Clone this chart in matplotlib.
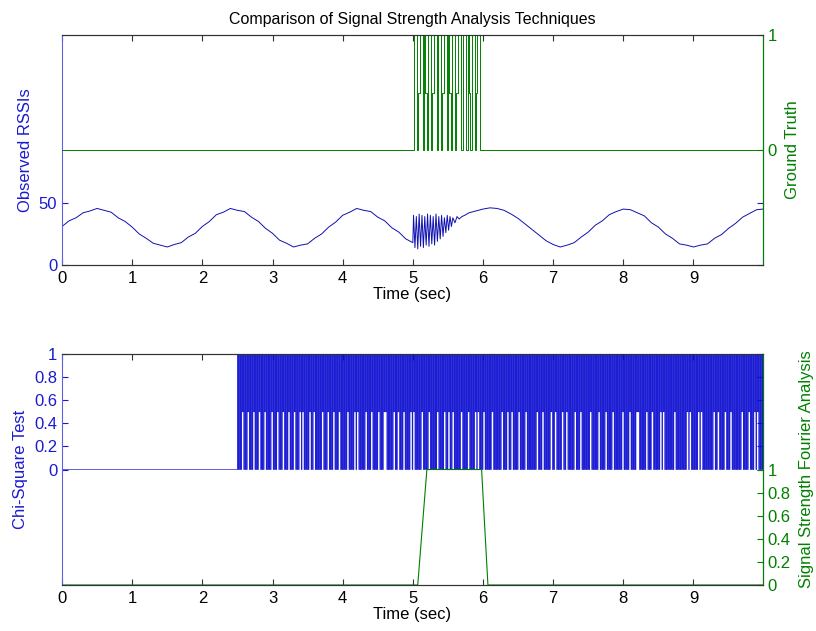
import matplotlib
matplotlib.use("Agg")
import matplotlib.pyplot as plt
import numpy as np

plt.rcParams['font.family'] = ['Liberation Sans', 'DejaVu Sans']
plt.rcParams['path.simplify'] = False

BLUE = '#0000ff'
LBLUE = '#1a1ad0'
GREEN = '#008000'

# --- top panel data: observed RSSI (0.1 s grid) ---
rssi_a = [31, 35.5, 38, 42, 43.5, 45.5, 44, 42.5, 38, 35, 30.5, 25, 21.5, 17.5, 16, 14.5, 16.5,
          18, 22.5, 25.5, 31, 35, 40.5, 42.5, 45.5, 44, 43, 38.5, 35, 29.5, 25.5, 20, 17.5, 14.5,
          16, 17, 21.5, 25, 30.5, 34.5, 40, 42.5, 45.5, 44, 43, 38.5, 35.5, 30, 26.5, 21, 18]
jag_t = [5.01, 5.03, 5.05, 5.07, 5.09, 5.11, 5.13, 5.15, 5.17, 5.19, 5.21, 5.23, 5.25, 5.27,
         5.29, 5.31, 5.33, 5.35, 5.37, 5.39, 5.41, 5.43, 5.45, 5.47, 5.49, 5.51, 5.53, 5.55,
         5.57, 5.60, 5.63, 5.66, 5.70, 5.74]
jag_v = [40, 14, 39, 13, 41, 15, 40, 14, 39, 16, 41, 15, 40, 17, 39, 16, 41, 19, 39, 21,
         40, 23, 38, 26, 40, 28, 39, 31, 38, 34, 39, 37, 39, 40]
rssi_b = [42, 43.5, 45, 46, 45.5, 44, 41, 37.5, 33, 28.5, 24, 19.5, 16.5, 14.5, 16, 18, 22.5,
          26.5, 32, 35.5, 40.5, 43, 45, 44.5, 42, 39.5, 34, 30.5, 25, 21.5, 17, 16, 14.5, 16,
          17, 21.5, 24.5, 29.5, 33.5, 38.5, 41.5, 44.5]
rssi_end = 45

# ground truth between 5 and 6 s (0.02 s grid): 0 -> 0, 1 -> 0.5, 2 -> 1
gt_codes = "02201220210220122022012202102201220022021022012200"

# --- bottom panel data ---
# chi-square test result from 2.5 s (0.01 s grid)
chi_codes = ("202020212020202120202021202020"
             "212020202120202020212020202120"
             "202021202020212020202120202021"
             "202120202020212020212020202020"
             "212020202120202021202020212020"
             "202020212020202021202120202020"
             "202120202021202020202120202021"
             "212020202020212020212020202120"
             "202020212021202020202021202020"
             "202120202020202120202020212020"
             "212020212020202020212020202021"
             "202020202120212020202120202020"
             "202120202020202021202020212020"
             "212020202021202020202120202020"
             "202020212020202120202020202120"
             "202120202020212020212020202020"
             "212020202120202020202021202020"
             "202021202020202120202020212020"
             "202020202120202020212020202021"
             "212020202020212020202120202020"
             "202120212020202020202021202020"
             "202020202021202120202020202120"
             "212020202020202020212020212020"
             "202021202020212020202020202021"
             "202020202120202021202120202020")
fourier_t = [0, 1, 2, 3, 4, 5.07, 5.2, 5.98, 6.07, 7, 8, 9.99]
fourier_v = [0, 0, 0, 0, 0, 0, 1, 1, 0, 0, 0, 0]

xticks = [0, 1, 2, 3, 4, 5, 6, 7, 8, 9]
xmax = 9.99

code_val = {'0': 0.0, '1': 0.5, '2': 1.0}

t_a = np.round(np.arange(len(rssi_a)) * 0.1, 2)
t_b = np.round(5.8 + np.arange(len(rssi_b)) * 0.1, 2)
rssi_t = np.concatenate([t_a, jag_t, t_b, [xmax]])
rssi_v = np.concatenate([rssi_a, jag_v, rssi_b, [rssi_end]])

gt_grid = 5.0 + np.arange(len(gt_codes)) * 0.02
gt_t = np.concatenate([[0], gt_grid, [xmax]])
gt_v = np.concatenate([[0], [code_val[c] for c in gt_codes], [0]])

chi_grid = 2.5 + np.arange(len(chi_codes)) * 0.01
chi_grid = chi_grid[chi_grid <= xmax]
chi_t = np.concatenate([[0], chi_grid, [xmax]])
chi_v = np.concatenate([[0], [code_val[c] for c in chi_codes[:len(chi_grid)]], [0]])

fig = plt.figure(figsize=(8.16, 6.31), dpi=100)
FS = 12


def style_pair(ax, ax2):
    ax.set_xlim(0, xmax)
    ax.set_xticks(xticks)
    ax.tick_params(axis='x', direction='in', top=True, bottom=True, length=4,
                   labelsize=FS, color='#333333', pad=4)
    ax.tick_params(axis='y', direction='in', left=True, right=True, length=4,
                   labelsize=FS, colors=LBLUE)
    ax2.tick_params(axis='y', direction='in', left=False, right=True, length=4,
                    labelsize=FS, colors=GREEN)
    ax.spines['left'].set_color('#6060e0')
    ax2.spines['left'].set_visible(False)
    ax2.spines['right'].set_color(GREEN)
    for a in (ax, ax2):
        a.spines['top'].set_color('#333333')
        a.spines['bottom'].set_color('#333333')
        for s in a.spines.values():
            s.set_linewidth(0.8)
    ax.set_xlabel('Time (sec)', fontsize=FS, labelpad=1)


# top panel
ax1 = fig.add_axes([0.076, 0.58, 0.859, 0.3645])
ax1b = ax1.twinx()
ax1.plot(rssi_t, rssi_v, color='#1010b0', lw=0.7)
ax1b.plot(gt_t, gt_v, color=GREEN, lw=0.7, drawstyle='steps-post')
ax1.set_ylim(0, 185)
ax1.set_yticks([0, 50])
ax1.set_yticklabels(['0', '50'])
ax1b.set_ylim(-1, 1)
ax1b.set_yticks([0, 1])
ax1b.set_yticklabels(['0', '1'])
style_pair(ax1, ax1b)
ax1.set_ylabel('Observed RSSIs', fontsize=FS, color=LBLUE, labelpad=4)
ax1b.set_ylabel('Ground Truth', fontsize=FS, color=GREEN, labelpad=6)
ax1.set_title('Comparison of Signal Strength Analysis Techniques', fontsize=11.5, pad=8)

# bottom panel
ax2 = fig.add_axes([0.076, 0.0729, 0.859, 0.366])
ax2b = ax2.twinx()
ax2.plot(chi_t, chi_v, color='#0a0ad0', lw=0.45, drawstyle='steps-post')
ax2b.plot(fourier_t, fourier_v, color=GREEN, lw=0.8)
ax2.set_ylim(-1, 1)
yt = [0, 0.2, 0.4, 0.6, 0.8, 1]
ylab = ['0', '0.2', '0.4', '0.6', '0.8', '1']
ax2.set_yticks(yt)
ax2.set_yticklabels(ylab)
ax2b.set_ylim(0, 2)
ax2b.set_yticks(yt)
ax2b.set_yticklabels(ylab)
style_pair(ax2, ax2b)
ax2.set_ylabel('Chi-Square Test', fontsize=FS, color=LBLUE, labelpad=4)
ax2b.set_ylabel('Signal Strength Fourier Analysis', fontsize=FS, color=GREEN, labelpad=6)

fig.savefig('out.png', dpi=100)
